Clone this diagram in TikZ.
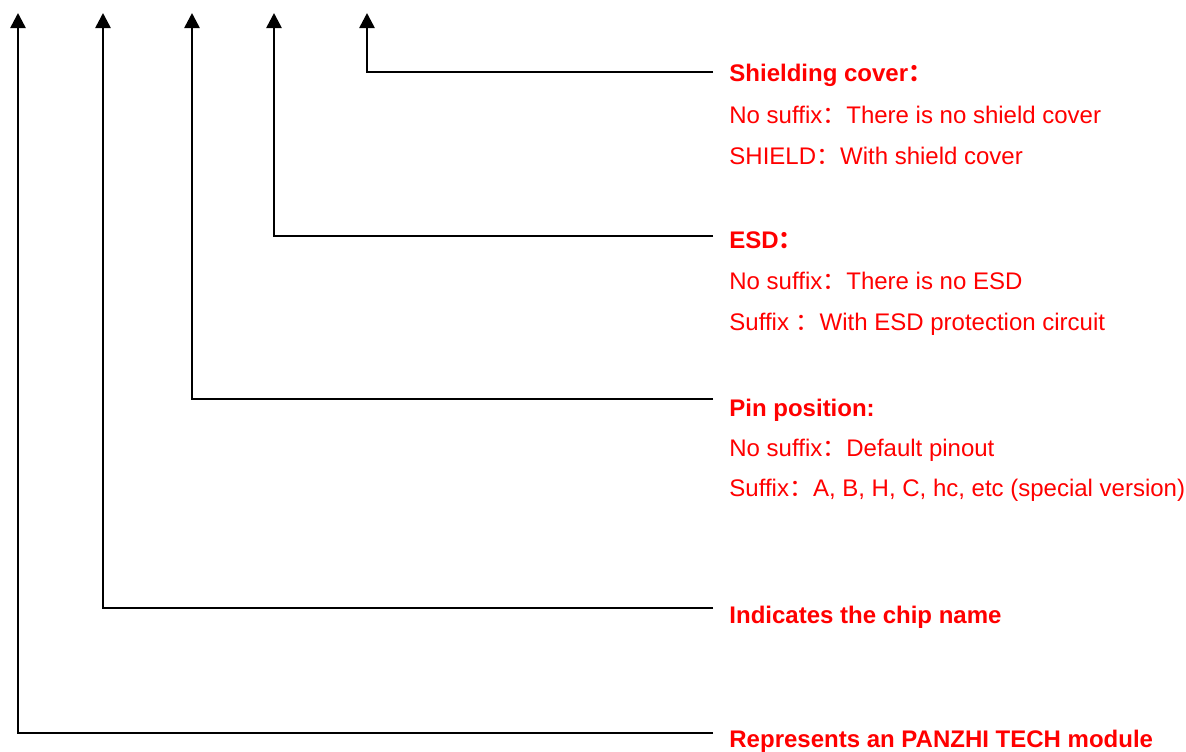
\documentclass[tikz,border=0pt]{standalone}
\usepackage{fontspec}
\setmainfont{Liberation Sans}
\newfontfamily\cjk{Noto Sans CJK SC}
\usetikzlibrary{arrows.meta}
\definecolor{labelred}{HTML}{FF0000}
\tikzset{
  headtxt/.style={anchor=base west, inner sep=0pt, text=labelred, font=\fontsize{12}{14}\selectfont\bfseries},
  subtxt/.style={anchor=base west, inner sep=0pt, text=labelred, font=\fontsize{12}{14}\selectfont},
  leader/.style={line width=1.3pt, black, -{Triangle[width=7.5pt,length=7.5pt]}}
}
\begin{document}
\begin{tikzpicture}[x=0.5pt, y=-0.5pt]
  \useasboundingbox (0,0) rectangle (1186,751);

  % Puntos de las flechas y finales de las lineas
  \foreach \n/\x/\y in {module/18/733, chip/103/608, pin/192/399, esd/274/236, shield/367/72} {
    \coordinate (tip\n) at (\x,13);
    \coordinate (end\n) at (713,\y);
    \draw[leader] (end\n) -| (tip\n);
  }

  % Tapa de blindaje
  \node[headtxt] (shield) at (729,81) {Shielding cover{\cjk ：}};
  \node[subtxt] (shielda) at (729,123) {No suffix{\cjk ：}There is no shield cover};
  \node[subtxt] (shieldb) at (729,164) {SHIELD{\cjk ：}With shield cover};

  % ESD
  \node[headtxt] (esd) at (729,248) {ESD{\cjk ：}};
  \node[subtxt] (esda) at (729,289) {No suffix{\cjk ：}There is no ESD};
  \node[subtxt] (esdb) at (729,330) {Suffix {\cjk ：}With ESD protection circuit};

  % Posicion de pines
  \node[headtxt] (pin) at (729,416) {Pin position:};
  \node[subtxt] (pina) at (729,456) {No suffix{\cjk ：}Default pinout};
  \node[subtxt] (pinb) at (729,496) {Suffix{\cjk ：}A, B, H, C, hc, etc (special version)};

  % Nombre del chip y modulo
  \node[headtxt] (chip) at (729,623) {Indicates the chip name};
  \node[headtxt] (module) at (729,747) {Represents an PANZHI TECH module};
\end{tikzpicture}
\end{document}
